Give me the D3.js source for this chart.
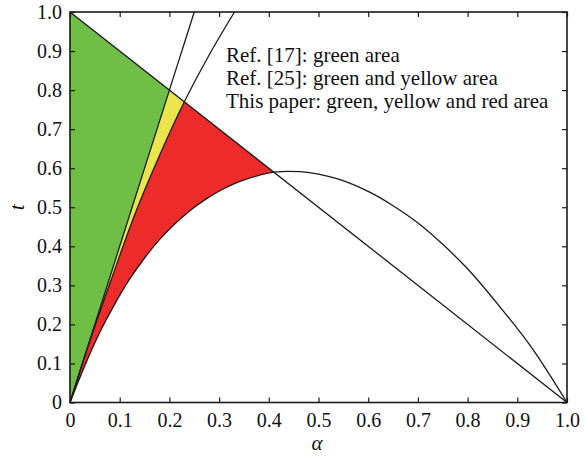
<!DOCTYPE html>
<html>
<head>
<meta charset="utf-8">
<script src="https://cdn.jsdelivr.net/npm/d3@7"></script>
<style>
  html, body { margin: 0; padding: 0; background: #fff; }
  svg { display: block; }
  text { font-family: "Liberation Serif", "Times New Roman", "DejaVu Serif", serif; fill: #111; }
</style>
</head>
<body>
<svg id="chart" width="586" height="460"></svg>
<script>
// ---- data ----
const xTickValues = [0, 0.1, 0.2, 0.3, 0.4, 0.5, 0.6, 0.7, 0.8, 0.9, 1.0];
const xTickLabels = ["0", "0.1", "0.2", "0.3", "0.4", "0.5", "0.6", "0.7", "0.8", "0.9", "1.0"];
const yTickValues = [0, 0.1, 0.2, 0.3, 0.4, 0.5, 0.6, 0.7, 0.8, 0.9, 1.0];
const yTickLabels = ["0", "0.1", "0.2", "0.3", "0.4", "0.5", "0.6", "0.7", "0.8", "0.9", "1.0"];

// straight boundary t = 1 - alpha
const diagAlpha = [0, 1];
const diagT = [1, 0];

// boundary of Ref. [17] (green)
const line1Alpha = [0, 0.2, 0.25];
const line1T = [0, 0.8, 1.0];

// boundary of Ref. [25] (yellow)
const line2Alpha = [0, 0.04, 0.0825, 0.13, 0.181, 0.23, 0.28, 0.331];
const line2T = [0, 0.158, 0.313, 0.48, 0.635, 0.77, 0.89, 1.0];

// boundary of this paper (red)
const curveAlpha = [0, 0.03, 0.06, 0.09, 0.117, 0.15, 0.18, 0.208, 0.24, 0.275, 0.31, 0.342, 0.375, 0.41, 0.44, 0.463, 0.5, 0.537, 0.57, 0.604, 0.65, 0.704, 0.75, 0.798, 0.865, 0.932, 1.0];
const curveT = [0, 0.095, 0.180, 0.252, 0.310, 0.370, 0.417, 0.454, 0.490, 0.522, 0.548, 0.566, 0.580, 0.590, 0.592, 0.591, 0.585, 0.573, 0.558, 0.538, 0.504, 0.456, 0.405, 0.345, 0.245, 0.135, 0];

const legendLines = ["Ref. [17]: green area", "Ref. [25]: green and yellow area", "This paper: green, yellow and red area"];

// ---- layout ----
const margin = { left: 70, top: 12, right: 19, bottom: 57.5 };
const W = 586, H = 460;
const x = d3.scaleLinear().domain([0, 1]).range([margin.left, W - margin.right]);
const y = d3.scaleLinear().domain([0, 1]).range([H - margin.bottom, margin.top]);

const svg = d3.select("#chart");
const zip = (a, b) => a.map((v, i) => [v, b[i]]);

const smooth = d3.line().x(d => x(d[0])).y(d => y(d[1])).curve(d3.curveMonotoneX);
const straight = d3.line().x(d => x(d[0])).y(d => y(d[1]));

const curvePts = zip(curveAlpha, curveT);
const line2Pts = zip(line2Alpha, line2T);
const line1Pts = zip(line1Alpha, line1T);
const diagPts = zip(diagAlpha, diagT);

// clip: the triangle below the diagonal
svg.append("defs").append("clipPath").attr("id", "below")
  .append("path")
  .attr("d", straight([[0, 0], [0, 1], [1, 0]]) + "Z");

const fills = svg.append("g").attr("clip-path", "url(#below)");
const closeLeft = " L" + x(0) + "," + y(1) + " Z";

// red: everything left of the curve (below diagonal)
fills.append("path").attr("d", smooth(curvePts) + " L" + x(1) + "," + y(0) + closeLeft)
  .attr("fill", "#ee2b2b");
// yellow: left of line 2
fills.append("path").attr("d", smooth(line2Pts) + closeLeft)
  .attr("fill", "#ebe54b");
// green: left of line 1
fills.append("path").attr("d", straight(line1Pts) + closeLeft)
  .attr("fill", "#6fbe45");

// boundary strokes
const strokes = svg.append("g").attr("fill", "none").attr("stroke", "#1a1a1a").attr("stroke-width", 1.3);
strokes.append("path").attr("d", smooth(curvePts));
strokes.append("path").attr("d", smooth(line2Pts));
strokes.append("path").attr("d", straight(line1Pts));
strokes.append("path").attr("d", straight(diagPts));

// ---- axes (ticks inward, mirrored on all four sides) ----
const tickLen = 5;
const fmtX = (d, i) => xTickLabels[i];
const fmtY = (d, i) => yTickLabels[i];

const axBottom = svg.append("g").attr("transform", `translate(0,${y(0)})`)
  .call(d3.axisBottom(x).tickValues(xTickValues).tickFormat(fmtX).tickSizeInner(-tickLen).tickSizeOuter(0).tickPadding(10));
const axTop = svg.append("g").attr("transform", `translate(0,${y(1)})`)
  .call(d3.axisTop(x).tickValues(xTickValues).tickFormat("").tickSizeInner(-tickLen).tickSizeOuter(0));
const axLeft = svg.append("g").attr("transform", `translate(${x(0)},0)`)
  .call(d3.axisLeft(y).tickValues(yTickValues).tickFormat(fmtY).tickSizeInner(-tickLen).tickSizeOuter(0).tickPadding(8));
const axRight = svg.append("g").attr("transform", `translate(${x(1)},0)`)
  .call(d3.axisRight(y).tickValues(yTickValues).tickFormat("").tickSizeInner(-tickLen).tickSizeOuter(0));

[axBottom, axTop, axLeft, axRight].forEach(g => {
  g.attr("font-family", null);
  g.select(".domain").remove();
  g.selectAll(".tick line").attr("stroke", "#1a1a1a").attr("stroke-width", 1.2);
  g.selectAll("text").attr("font-size", 20).attr("fill", "#111");
});

// frame
svg.append("rect")
  .attr("x", x(0)).attr("y", y(1))
  .attr("width", x(1) - x(0)).attr("height", y(0) - y(1))
  .attr("fill", "none").attr("stroke", "#1a1a1a").attr("stroke-width", 1.6);

// axis titles
svg.append("text").attr("x", (x(0) + x(1)) / 2 - 1.5).attr("y", 450)
  .attr("text-anchor", "middle").attr("font-size", 21).attr("font-style", "italic")
  .text("α");
svg.append("text").attr("transform", `translate(24,${y(0.5)}) rotate(-90)`)
  .attr("text-anchor", "middle").attr("font-size", 21).attr("font-style", "italic")
  .text("t");

// legend text
svg.append("g").selectAll("text").data(legendLines).join("text")
  .attr("x", 226).attr("y", (d, i) => 61.5 + i * 23.4)
  .attr("font-size", 21)
  .text(d => d);
</script>
</body>
</html>
